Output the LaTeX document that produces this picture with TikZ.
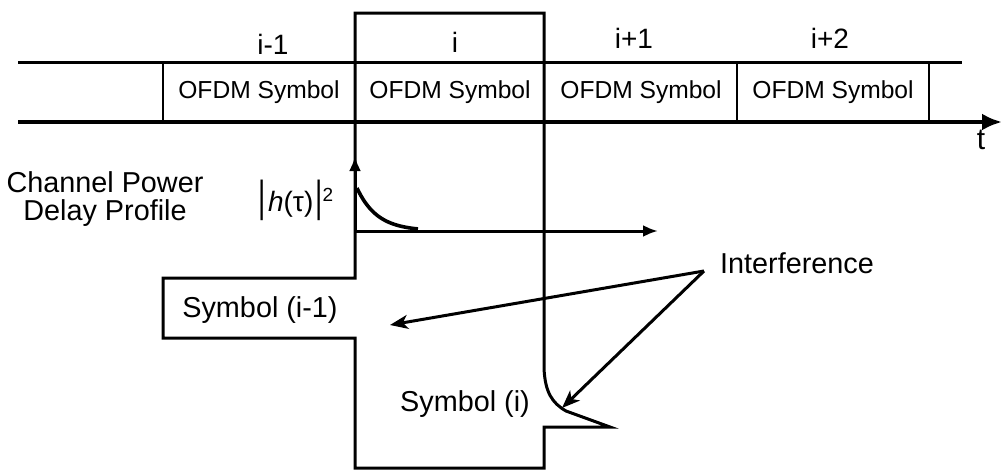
\documentclass[tikz,border=0pt]{standalone}
\usepackage{fontspec}
\usepackage{graphicx}
\setmainfont{Liberation Sans}
\usetikzlibrary{arrows.meta}
\begin{document}
\begin{tikzpicture}[x=0.5pt,y=-0.5pt,
  thickline/.style={line width=1.5pt},
  axisline/.style={line width=1.9pt},
  cellbox/.style={line width=1.3pt},
  sigline/.style={line width=1.5pt, line join=miter},
  cellfont/.style={font=\fontsize{12.3}{14}\selectfont},
  idxfont/.style={font=\fontsize{14}{16}\selectfont},
  labfont/.style={font=\fontsize{14.4}{14.2}\selectfont},
  bigtip/.style={-{Latex[length=10pt,width=8.5pt]}},
  pdptip/.style={-{Latex[length=7.5pt,width=6pt]}},
  itip/.style={-{Stealth[length=9pt,width=7pt,inset=2.5pt]}, line width=1.5pt}
]
\useasboundingbox (0,0) rectangle (1003,471);

% time axis with the symbol slots
\draw[thickline] (18,62) -- (962,62);
\coordinate (t0) at (18,122);
\coordinate (tend) at (1002,122);
\draw[axisline, bigtip] (t0) -- (tend);
\node[font=\fontsize{15}{16}\selectfont] (tlab) at (981,140) {t};

\draw[cellbox] (163,62) rectangle (355,122);
\draw[cellbox] (355,62) rectangle (544,122);
\draw[cellbox] (544,62) rectangle (737,122);
\draw[cellbox] (737,62) rectangle (929,122);
\node[cellfont] (c1) at (259,92) {OFDM Symbol};
\node[cellfont] (c2) at (450,92) {OFDM Symbol};
\node[cellfont] (c3) at (641,92) {OFDM Symbol};
\node[cellfont] (c4) at (833,92) {OFDM Symbol};

\node[idxfont] (l1) at (273,44) {i-1};
\node[idxfont] (l2) at (455,42) {i};
\node[idxfont] (l3) at (634,38) {i+1};
\node[idxfont] (l4) at (830,38) {i+2};

% received symbol outlines: symbol (i) with its delayed tail, symbol (i-1) tail
\draw[sigline] (355,13) -- (355,278) -- (163,278) -- (163,338) -- (355,338)
  -- (355,468) -- (544,468) -- (544,427) -- (610,427) -- (566,411)
  .. controls (552,403) and (545,392) .. (544,368) -- (544,13) -- cycle;

\node[labfont] (si1) at (260,310) {Symbol (i-1)};
\node[labfont] (si) at (465,404) {Symbol (i)};

% channel power delay profile
\node[labfont, align=center] (cpdp) at (105,199) {Channel Power\\Delay Profile};
\node[font=\fontsize{14}{16}\selectfont] (hlab) at (296,200)
  {\scalebox{1}[1.55]{|}\kern1pt{\itshape h}(τ)\kern1pt\scalebox{1}[1.55]{|}\raisebox{5pt}{\fontsize{9.5}{10}\selectfont 2}};
\coordinate (o) at (355,231);
\coordinate (yt) at (355,156);
\coordinate (xt) at (658,231);
\draw[thickline, pdptip] (o) -- (yt);
\draw[thickline, pdptip] (o) -- (xt);
\draw[line width=1.8pt] plot[domain=357:418, samples=60]
  (\x, {231-43*exp(-(\x-357)/20)});

% interference pointers
\node[labfont] (intf) at (797,263) {Interference};
\coordinate (src) at (704,271);
\coordinate (isi1) at (390,325);
\coordinate (isi2) at (562,408);
\draw[itip] (src) -- (isi1);
\draw[itip] (src) -- (isi2);
\end{tikzpicture}
\end{document}
